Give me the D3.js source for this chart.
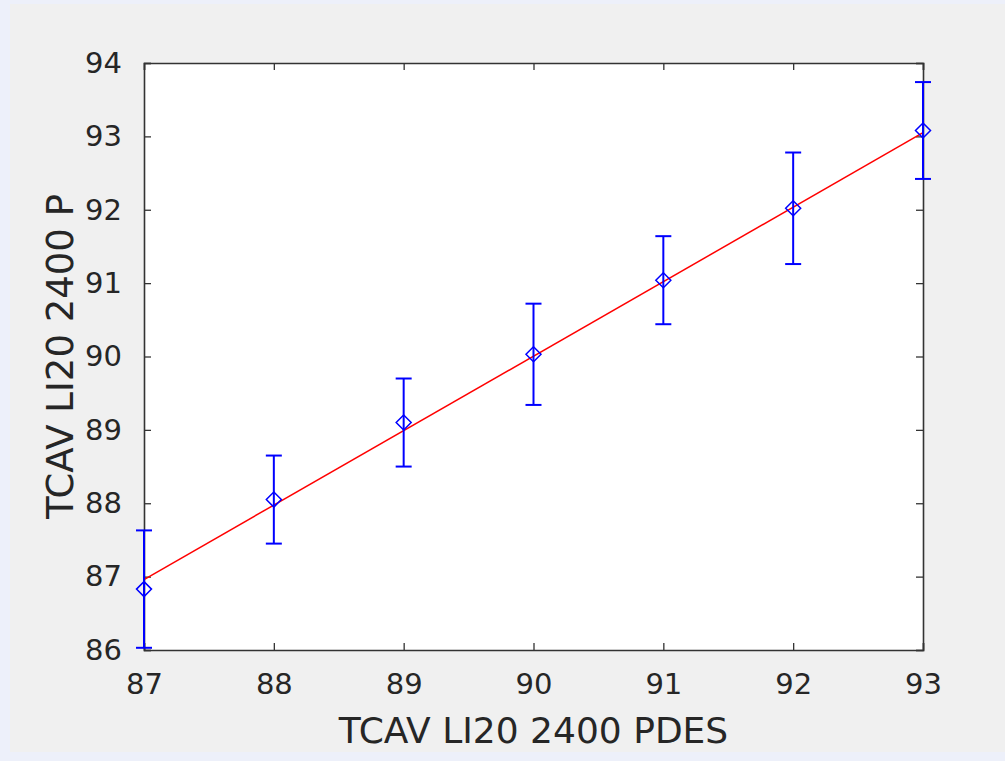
<!DOCTYPE html>
<html>
<head>
<meta charset="utf-8">
<script src="https://cdn.jsdelivr.net/npm/d3@7"></script>
<style>
  html, body { margin: 0; padding: 0; background: #edf0fa; }
  svg { display: block; }
</style>
</head>
<body>
<script>
// ---- data ----
const xValues = [87, 88, 89, 90, 91, 92, 93];
const yMeans  = [86.83, 88.05, 89.1, 90.03, 91.04, 92.02, 93.08];
const yErrors = [0.8, 0.6, 0.6, 0.69, 0.6, 0.76, 0.66];
const fitX = [87, 93];
const fitY = [86.96, 93.05];
const xTicks = [87, 88, 89, 90, 91, 92, 93];
const yTicks = [86, 87, 88, 89, 90, 91, 92, 93, 94];
const xLabel = "TCAV LI20 2400 PDES";
const yLabel = "TCAV LI20 2400 P";

(function () {
const W = 1005, H = 761;
const svg = d3.select("body").append("svg").attr("width", W).attr("height", H);

// window background
svg.append("rect").attr("x", 0).attr("y", 0).attr("width", W).attr("height", H).attr("fill", "#edf0fa");
svg.append("rect").attr("x", 10).attr("y", 4).attr("width", W - 10).attr("height", 748).attr("fill", "#f0f0f0");

const pL = 144, pR = 923, pT = 63, pB = 650;
const x = d3.scaleLinear().domain([87, 93]).range([pL, pR]);
const y = d3.scaleLinear().domain([86, 94]).range([pB, pT]);

svg.append("rect").attr("x", pL).attr("y", pT).attr("width", pR - pL).attr("height", pB - pT).attr("fill", "#ffffff");

const axisColor = "#333333";
const font = "'DejaVu Sans', sans-serif";

const gx = svg.append("g").attr("transform", `translate(0,${pB})`)
  .call(d3.axisBottom(x).tickValues(xTicks).tickSize(-7).tickPadding(38).tickFormat(d3.format("d")));
const gxTop = svg.append("g").attr("transform", `translate(0,${pT})`)
  .call(d3.axisTop(x).tickValues(xTicks).tickSize(-7).tickFormat(""));
const gy = svg.append("g").attr("transform", `translate(${pL},0)`)
  .call(d3.axisLeft(y).tickValues(yTicks).tickSize(-7).tickPadding(22).tickFormat(d3.format("d")));
const gyRight = svg.append("g").attr("transform", `translate(${pR},0)`)
  .call(d3.axisRight(y).tickValues(yTicks).tickSize(-7).tickFormat(""));

[gx, gxTop, gy, gyRight].forEach(g => {
  g.select(".domain").attr("stroke", axisColor).attr("stroke-width", 1.6);
  g.selectAll(".tick line").attr("stroke", axisColor).attr("stroke-width", 1.3);
  g.selectAll(".tick text").attr("fill", "#262626").attr("font-family", font).attr("font-size", 29);
});
gx.selectAll(".tick text").attr("dy", "0.2em");

// fit line
const fitData = fitX.map((v, i) => [v, fitY[i]]);
svg.append("path").datum(fitData)
  .attr("d", d3.line().x(d => x(d[0])).y(d => y(d[1])))
  .attr("stroke", "#ff0000").attr("stroke-width", 1.5).attr("fill", "none");

// error bars
const pts = xValues.map((v, i) => ({ x: v, y: yMeans[i], e: yErrors[i] }));
const blue = "#0000ff";
const capW = 8;
const eb = svg.append("g").attr("stroke", blue).attr("stroke-width", 2).attr("fill", "none");
eb.selectAll("line.v").data(pts).join("line").attr("class", "v")
  .attr("x1", d => x(d.x)).attr("x2", d => x(d.x))
  .attr("y1", d => y(d.y - d.e)).attr("y2", d => y(d.y + d.e));
eb.selectAll("line.t").data(pts).join("line").attr("class", "t")
  .attr("x1", d => x(d.x) - capW).attr("x2", d => x(d.x) + capW)
  .attr("y1", d => y(d.y + d.e)).attr("y2", d => y(d.y + d.e));
eb.selectAll("line.b").data(pts).join("line").attr("class", "b")
  .attr("x1", d => x(d.x) - capW).attr("x2", d => x(d.x) + capW)
  .attr("y1", d => y(d.y - d.e)).attr("y2", d => y(d.y - d.e));

// diamond markers
const r = 7.5;
svg.append("g").selectAll("path").data(pts).join("path")
  .attr("d", d => {
    const cx = x(d.x), cy = y(d.y);
    return `M${cx},${cy - r}L${cx + r},${cy}L${cx},${cy + r}L${cx - r},${cy}Z`;
  })
  .attr("stroke", blue).attr("stroke-width", 1.5).attr("fill", "none");

// axis labels
svg.append("text").attr("x", (pL + pR) / 2).attr("y", 743)
  .attr("text-anchor", "middle").attr("font-family", font).attr("font-size", 36)
  .attr("fill", "#262626").text(xLabel);
svg.append("text").attr("transform", `translate(73,${(pT + pB) / 2}) rotate(-90)`)
  .attr("text-anchor", "middle").attr("font-family", font).attr("font-size", 37)
  .attr("fill", "#262626").text(yLabel);
})();
</script>
</body>
</html>
